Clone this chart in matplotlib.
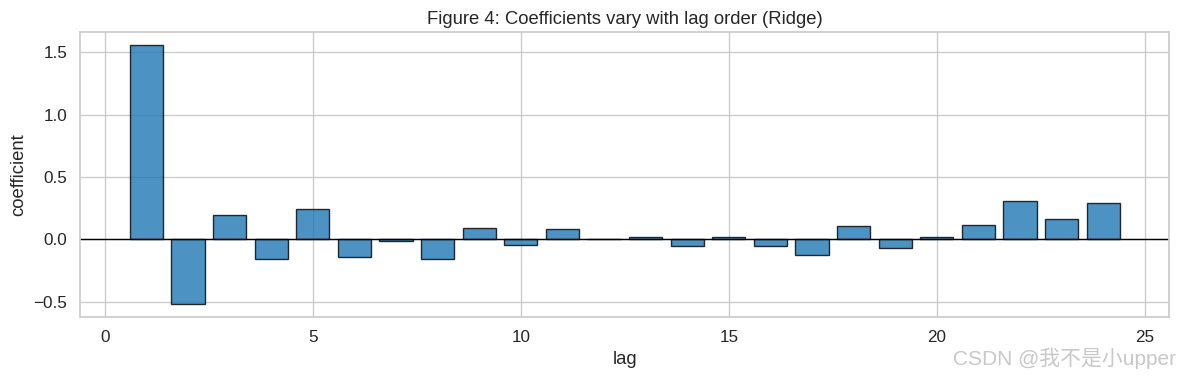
import matplotlib
matplotlib.use("Agg")
import matplotlib.pyplot as plt
import seaborn as sns
import numpy as np

sns.set_theme(style="whitegrid")
plt.rcParams['font.family'] = ['Liberation Sans', 'Noto Sans CJK SC']

# Ridge 系数（按滞后阶数）
lags = np.arange(1, 25)
coefs = [1.556, -0.519, 0.191, -0.160, 0.239, -0.144, -0.016, -0.160,
         0.088, -0.043, 0.080, 0.002, 0.016, -0.056, 0.016, -0.056,
         -0.128, 0.104, -0.072, 0.016, 0.114, 0.303, 0.160, 0.287]

fig, ax = plt.subplots(figsize=(11.8, 3.8), dpi=100)
fig.subplots_adjust(left=0.068, right=0.991, top=0.915, bottom=0.166)

ax.bar(lags, coefs, color='#1f77b4', alpha=0.8, edgecolor='black', linewidth=1)
ax.axhline(0, color='black', linewidth=1)
ax.set_title('Figure 4: Coefficients vary with lag order (Ridge)', fontsize=13.3)
ax.set_xlabel('lag', fontsize=13.3)
ax.set_ylabel('coefficient', fontsize=13.3)
ax.tick_params(labelsize=12.3)

# 水印
fig.text(0.997, 0.028, 'CSDN @我不是小upper', ha='right', va='bottom',
         fontsize=15, color='#c8c8c8', family=['Liberation Sans', 'Noto Sans CJK SC'])

plt.savefig('out.png', dpi=100)
